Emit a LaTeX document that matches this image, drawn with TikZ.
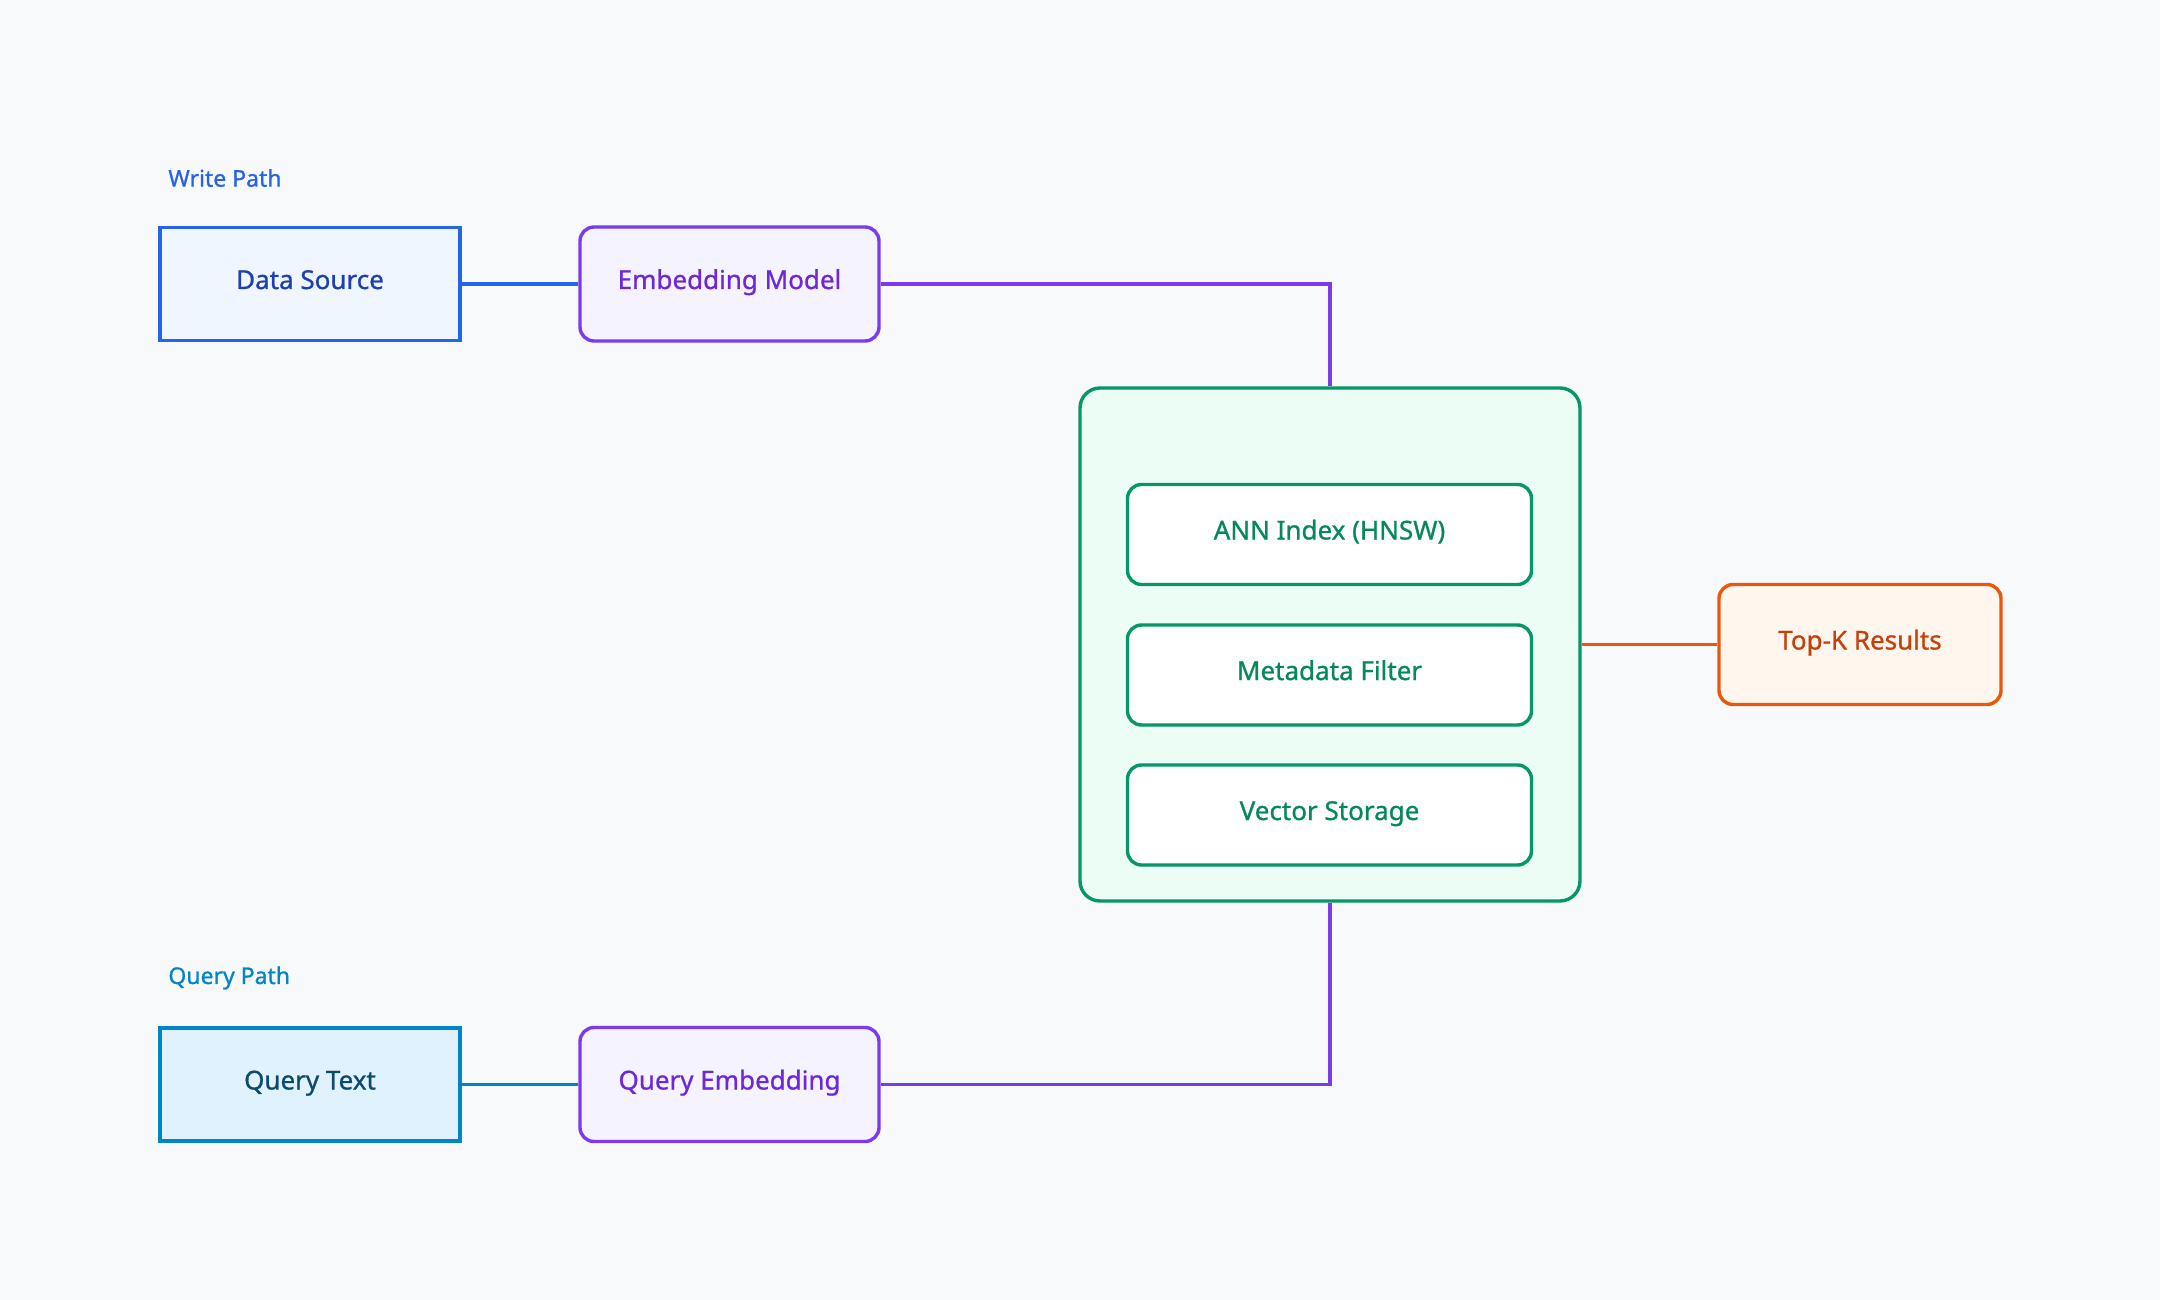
\documentclass[tikz,border=0pt]{standalone}
\usepackage{fontspec}
\setmainfont{Noto Sans}[FakeBold=0.9]
\definecolor{bgc}{HTML}{F8F9FB}
\definecolor{blueB}{HTML}{2563EB}
\definecolor{blueF}{HTML}{EFF6FF}
\definecolor{blueT}{HTML}{1E40AF}
\definecolor{violB}{HTML}{7C3AED}
\definecolor{violF}{HTML}{F5F3FF}
\definecolor{violT}{HTML}{6D28D9}
\definecolor{grnB}{HTML}{059669}
\definecolor{grnF}{HTML}{ECFDF5}
\definecolor{grnT}{HTML}{05875F}
\definecolor{orgB}{HTML}{EA580C}
\definecolor{orgF}{HTML}{FFF7ED}
\definecolor{orgT}{HTML}{C2410C}
\definecolor{skyB}{HTML}{0284C7}
\definecolor{skyF}{HTML}{E0F2FE}
\definecolor{skyT}{HTML}{0C4A6E}
\begin{document}
\begin{tikzpicture}[x=0.5pt,y=-0.5pt,
  box/.style={draw,line width=1.7pt,align=center,inner sep=0pt,text height=0.75em,text depth=0.25em,font=\fontsize{13}{15}\selectfont\bfseries},
  sqbox/.style={box,minimum width=150pt,minimum height=56.5pt},
  rbox/.style={box,rounded corners=7pt,minimum width=149.5pt,minimum height=57pt},
  inbox/.style={box,rounded corners=7pt,draw=grnB,fill=white,text=grnT,minimum width=202pt,minimum height=50pt},
  lbl/.style={anchor=west,inner sep=0pt,font=\fontsize{11.5}{13}\selectfont\bfseries},
  conn/.style={line width=1.6pt}]
\fill[bgc] (0,0) rectangle (2160,1300);
\useasboundingbox (0,0) rectangle (2160,1300);

\node[lbl,text=blueB] (wlbl) at (168,178) {Write Path};
\node[lbl,text=skyB] (qlbl) at (168,978) {Query Path};

\node[sqbox,draw=blueB,fill=blueF,text=blueT] (ds) at (310,284) {Data Source};
\node[rbox,draw=violB,fill=violF,text=violT] (em) at (729.5,284) {Embedding Model};

\node[box,rounded corners=10pt,draw=grnB,fill=grnF,minimum width=250pt,minimum height=256.5pt] (cl) at (1330,644.5) {};
\node[inbox] (ann) at (1329.5,534.5) {ANN Index (HNSW)};
\node[inbox] (meta) at (1329.5,675) {Metadata Filter};
\node[inbox] (vs) at (1329.5,815) {Vector Storage};

\node[box,rounded corners=7pt,draw=orgB,fill=orgF,text=orgT,minimum width=141pt,minimum height=60pt] (topk) at (1860,644.5) {Top-K Results};

\node[sqbox,draw=skyB,fill=skyF,text=skyT] (qt) at (310,1084.5) {Query Text};
\node[rbox,draw=violB,fill=violF,text=violT] (qe) at (729.5,1084.5) {Query Embedding};

\draw[conn,blueB] (ds.east) -- (em.west);
\draw[conn,violB] (em.east) -| (cl.north);
\draw[conn,skyB] (qt.east) -- (qe.west);
\draw[conn,violB] (cl.south) |- (qe.east);
\draw[conn,orgB] (cl.east) -- (topk.west);
\end{tikzpicture}
\end{document}
